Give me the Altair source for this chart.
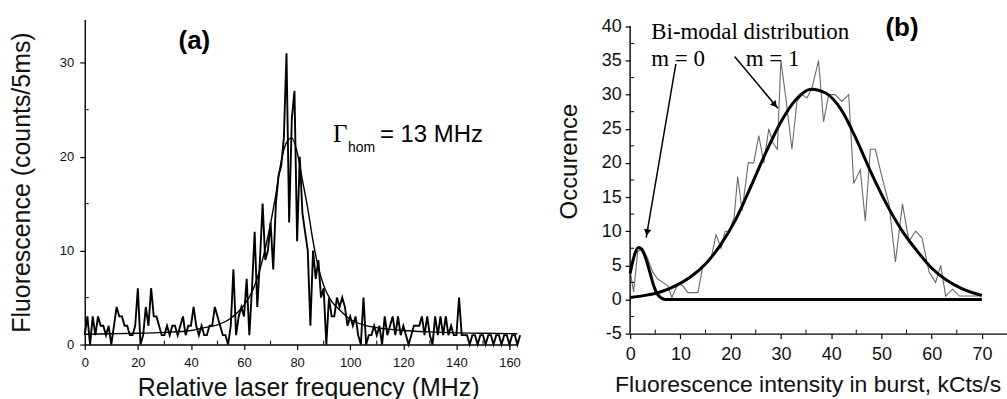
import altair as alt
import pandas as pd

FONT = "Liberation Sans"
SERIF = "Liberation Serif"

# ---------------- panel (a): fluorescence vs laser frequency ----------------
freq_mhz = list(range(0, 165))
counts = [
    1, 3, 0, 3, 1, 3, 2, 2, 1, 2,
    0, 2, 4, 3, 3, 2, 2, 1, 1, 2,
    6, 0, 1, 4, 2, 6, 3, 3, 2, 1,
    1, 2, 1, 2, 2, 1, 2, 3, 1, 2,
    2, 4, 2, 1, 2, 1, 1, 2, 2, 4,
    3, 2, 1, 1, 0, 2, 8, 1, 3, 4,
    3, 7, 1, 6, 12, 4, 9, 15, 9, 10,
    13, 8, 15, 18, 19, 22, 31, 13, 24, 27,
    11, 20, 14, 12, 10, 2, 10, 7, 9, 5,
    6, 0, 5, 3, 3, 5, 4, 5, 4, 2,
    3, 2, 3, 1, 0, 5, 0, 1, 1, 2,
    1, 2, 0, 3, 1, 2, 3, 1, 3, 1,
    2, 1, 0, 1, 2, 2, 2, 3, 1, 3,
    1, 0, 3, 1, 3, 1, 3, 1, 2, 1,
    1, 5, 1, 1, 1, 0, 1, 1, 0, 1,
    1, 0, 1, 1, 0, 1, 1, 0, 1, 1,
    0, 1, 1, 0, 1,
]
fit_freq = [0, 10, 20, 30, 40, 45, 50, 55, 60, 63, 66, 69, 72, 74, 76, 78,
            80, 82, 84, 86, 88, 90, 93, 96, 100, 105, 110, 120, 130, 140, 150, 163]
fit_counts = [1.1, 1.15, 1.2, 1.3, 1.5, 1.8, 2.1, 2.8, 4.2, 5.6, 8.0, 11.5, 16.0, 19.5, 21.5, 22.0,
              20.5, 17.5, 14.5, 11.0, 8.2, 6.3, 4.6, 3.7, 2.7, 2.1, 1.8, 1.5, 1.35, 1.25, 1.2, 1.15]
a_xticks = [0, 20, 40, 60, 80, 100, 120, 140, 160]
a_yticks = [0, 10, 20, 30]
a_xminor = [10, 30, 50, 70, 90, 110, 130, 150]
a_yminor = [5, 15, 25]

# ---------------- panel (b): burst intensity histogram ----------------
hist_x = [0, 0.7, 1.5, 2.5, 3.5, 4.5, 5.5, 6.5, 7.5, 8.3,
          9.5, 10.5, 11.5, 12.5, 13.5, 14.5, 15.3, 16.1, 17.1, 18.1,
          18.9, 19.7, 20.7, 21.4, 22.3, 23.5, 24.6, 25.6, 26.6, 27.6,
          28.4, 29.3, 30.0, 30.9, 32.2, 33.2, 34.2, 35.2, 36.2, 37.5,
          38.5, 39.5, 40.8, 42.1, 43.5, 44.5, 45.8, 46.8, 47.8, 48.8,
          50.1, 51.5, 52.8, 54.2, 55.5, 56.8, 58.1, 59.5, 60.8, 61.8,
          62.8, 64.2, 65.5, 66.8, 68.8, 70.0]
hist_y = [4.2, 1.1, 7.0, 7.5, 6.0, 4.0, 3.0, 2.5, 2.0, 0.3,
          2.3, 2.0, 1.0, 1.0, 1.0, 5.0, 5.5, 6.0, 9.5, 7.5,
          10.0, 10.0, 12.0, 18.0, 13.0, 20.0, 20.0, 24.0, 20.0, 25.0,
          23.0, 22.0, 35.0, 30.0, 22.0, 29.0, 30.0, 29.5, 31.0, 35.0,
          26.0, 30.0, 30.0, 29.0, 30.0, 17.0, 19.0, 11.5, 22.0, 22.0,
          18.0, 14.0, 5.5, 14.0, 8.5, 10.0, 9.0, 4.0, 2.5, 5.0,
          0.5, 1.5, 0.5, 0.5, 0.5, 0.5]
m1_x = [0, 3, 6, 9, 12, 15, 18, 21, 24, 27, 30, 33, 36, 39, 42, 45, 48, 51, 54, 57, 60, 63, 66, 69, 70]
m1_y = [0.3, 0.6, 1.1, 2.0, 3.3, 5.2, 8.0, 11.7, 16.5, 21.5, 26.0, 29.3, 30.8, 30.2, 27.8, 23.5,
        18.5, 14.0, 10.2, 7.2, 4.6, 2.8, 1.6, 0.8, 0.6]
m0_x = [0, 0.5, 1.0, 1.7, 2.5, 3.3, 4.0, 4.7, 5.4, 6.2, 7.0, 70]
m0_y = [3.8, 5.5, 6.8, 7.6, 7.1, 5.6, 3.8, 2.0, 0.8, 0.2, 0.0, 0.0]
b_xticks = [0, 10, 20, 30, 40, 50, 60, 70]
b_yticks = [-5, 0, 5, 10, 15, 20, 25, 30, 35, 40]
b_xminor = [5, 15, 25, 35, 45, 55, 65]
b_yminor = [-2.5, 2.5, 7.5, 12.5, 17.5, 22.5, 27.5, 32.5, 37.5]

# arrows (start -> tip) in data units of panel (b)
arrow_x = [9.1, 20.8]
arrow_y = [34.5, 35.6]
arrow_x2 = [3.2, 29.4]
arrow_y2 = [9.05, 28.0]

WA, HA = 434, 326
WB, HB = 378, 315

# ---------------- build panel (a) ----------------
sxa = alt.Scale(domain=[0, 163], nice=False, zero=False)
sya = alt.Scale(domain=[0, 34.6], nice=False, zero=False)

ax_a_x = alt.Axis(values=a_xticks, title="Relative laser frequency (MHz)", format="d",
                  labelFontSize=13, labelPadding=7, tickSize=5, labelFlush=False,
                  titleFontSize=25, titlePadding=6, titleX=224)
ax_a_y = alt.Axis(values=a_yticks, title="Fluorescence (counts/5ms)", format="d",
                  labelFontSize=13, labelPadding=6, tickSize=5,
                  titleFontSize=25, titlePadding=25)


def XA(field=None, **kw):
    if field is None:
        return alt.X(scale=sxa, axis=ax_a_x, title="Relative laser frequency (MHz)", **kw)
    return alt.X(field, scale=sxa, axis=ax_a_x, title="Relative laser frequency (MHz)", **kw)


def YA(field=None, **kw):
    if field is None:
        return alt.Y(scale=sya, axis=ax_a_y, title="Fluorescence (counts/5ms)", **kw)
    return alt.Y(field, scale=sya, axis=ax_a_y, title="Fluorescence (counts/5ms)", **kw)


df_a = pd.DataFrame({"f": freq_mhz, "c": counts})
df_fa = pd.DataFrame({"f": fit_freq, "c": fit_counts})

data_a = alt.Chart(df_a).mark_line(color="black", strokeWidth=1.9).encode(
    x=XA("f:Q"), y=YA("c:Q"))
fit_a = alt.Chart(df_fa).mark_line(color="black", strokeWidth=1.4, interpolate="monotone").encode(
    x=XA("f:Q"), y=YA("c:Q"))
minor_ya = alt.Chart(pd.DataFrame({"c": a_yminor})).mark_rule(color="black", strokeWidth=1).encode(
    y=YA("c:Q"), x=alt.value(0), x2=alt.value(4))
minor_xa = alt.Chart(pd.DataFrame({"f": a_xminor})).mark_rule(color="black", strokeWidth=1).encode(
    x=XA("f:Q"), y=alt.value(HA), y2=alt.value(HA - 4))

lab_a = alt.Chart().mark_text(text="(a)", font=FONT, fontSize=26, fontWeight="bold",
                              align="center", baseline="middle", color="black").encode(
    x=XA(datum=41.3), y=YA(datum=32.3))
gam = alt.Chart().mark_text(text="Γ", font=SERIF, fontSize=25, align="left",
                            baseline="alphabetic", color="black").encode(
    x=XA(datum=93.5), y=YA(datum=21.6))
hom = alt.Chart().mark_text(text="hom", font=FONT, fontSize=14, align="left",
                            baseline="alphabetic", color="black").encode(
    x=XA(datum=99.2), y=YA(datum=20.5))
mhz = alt.Chart().mark_text(text="= 13 MHz", font=FONT, fontSize=24, align="left",
                            baseline="alphabetic", color="black").encode(
    x=XA(datum=111.2), y=YA(datum=21.6))

panel_a = alt.layer(data_a, fit_a, minor_ya, minor_xa, lab_a, gam, hom, mhz).properties(
    width=WA, height=HA)

# ---------------- build panel (b) ----------------
sxb = alt.Scale(domain=[0, 75], nice=False, zero=False)
syb = alt.Scale(domain=[-5, 41], nice=False, zero=False)

TXB = "Fluorescence intensity in burst, kCts/s"
TYB = "Occurence"
ax_b_x = alt.Axis(values=b_xticks, title=TXB,
                  labelExpr="'' + datum.value", labelFontSize=18, labelPadding=7, tickSize=5,
                  labelFlush=False, titleFontSize=23, titlePadding=10, titleX=178)
ax_b_y = alt.Axis(values=b_yticks, title=TYB, labelExpr="'' + datum.value",
                  labelFontSize=18, labelPadding=4, tickSize=5, domain=False,
                  titleFontSize=24, titlePadding=20, titleY=142)


def XB(field=None, **kw):
    if field is None:
        return alt.X(scale=sxb, axis=ax_b_x, title=TXB, **kw)
    return alt.X(field, scale=sxb, axis=ax_b_x, title=TXB, **kw)


def YB(field=None, **kw):
    if field is None:
        return alt.Y(scale=syb, axis=ax_b_y, title=TYB, **kw)
    return alt.Y(field, scale=syb, axis=ax_b_y, title=TYB, **kw)


df_h = pd.DataFrame({"x": hist_x, "y": hist_y})
df_m1 = pd.DataFrame({"x": m1_x, "y": m1_y})
df_m0 = pd.DataFrame({"x": m0_x, "y": m0_y})

hist_b = alt.Chart(df_h).mark_line(color="#6a6a6a", strokeWidth=1.1).encode(
    x=XB("x:Q"), y=YB("y:Q"))
m1_b = alt.Chart(df_m1).mark_line(color="black", strokeWidth=3, interpolate="monotone").encode(
    x=XB("x:Q"), y=YB("y:Q"))
m0_b = alt.Chart(df_m0).mark_line(color="black", strokeWidth=3, interpolate="monotone").encode(
    x=XB("x:Q"), y=YB("y:Q"))

yaxis_line = alt.Chart().mark_rule(color="black", strokeWidth=1.4).encode(
    x=XB(datum=0), y=YB(datum=-5), y2=alt.Y2(datum=40))
minor_yb = alt.Chart(pd.DataFrame({"y": b_yminor})).mark_rule(color="black", strokeWidth=1).encode(
    y=YB("y:Q"), x=alt.value(0), x2=alt.value(4))
minor_xb = alt.Chart(pd.DataFrame({"x": b_xminor})).mark_rule(color="black", strokeWidth=1).encode(
    x=XB("x:Q"), y=alt.value(HB), y2=alt.value(HB - 4))

df_arr = pd.DataFrame({"x": arrow_x, "y": arrow_y, "x2": arrow_x2, "y2": arrow_y2})
arrows = alt.Chart(df_arr).mark_rule(color="black", strokeWidth=1.5).encode(
    x=XB("x:Q"), y=YB("y:Q"), x2="x2:Q", y2="y2:Q")
head0 = alt.Chart().mark_point(shape="triangle-up", filled=True, color="black", opacity=1,
                               size=55, angle=190).encode(
    x=XB(datum=3.37), y=YB(datum=9.8))
head1 = alt.Chart().mark_point(shape="triangle-up", filled=True, color="black", opacity=1,
                               size=55, angle=140).encode(
    x=XB(datum=28.8), y=YB(datum=28.5))


def serif_text(txt, x, y):
    return alt.Chart().mark_text(text=txt, font=SERIF, fontSize=23, align="left",
                                 baseline="alphabetic", color="black").encode(
        x=XB(datum=x), y=YB(datum=y))


t_bimodal = serif_text("Bi-modal distribution", 4.2, 38.2)
t_m0 = serif_text("m = 0", 4.2, 34.2)
t_m1 = serif_text("m = 1", 23.0, 34.2)
lab_b = alt.Chart().mark_text(text="(b)", font=FONT, fontSize=26, fontWeight="bold",
                              align="center", baseline="middle", color="black").encode(
    x=XB(datum=54.1), y=YB(datum=39.7))

panel_b = alt.layer(hist_b, m1_b, m0_b, yaxis_line, minor_yb, minor_xb, arrows, head0, head1,
                    t_bimodal, t_m0, t_m1, lab_b).properties(width=WB, height=HB)

chart = alt.hconcat(panel_a, panel_b, spacing=32).properties(
    padding={"left": 9, "top": 14, "right": 0, "bottom": 0},
    background="white",
).configure_view(strokeWidth=0).configure_axis(
    grid=False, domainColor="black", domainWidth=1.4, tickColor="black", tickWidth=1.2,
    labelColor="#111", titleColor="#111", labelFont=FONT, titleFont=FONT,
    titleFontWeight="normal",
)

chart.save("out.html", embed_options={"renderer": "svg", "actions": False})
